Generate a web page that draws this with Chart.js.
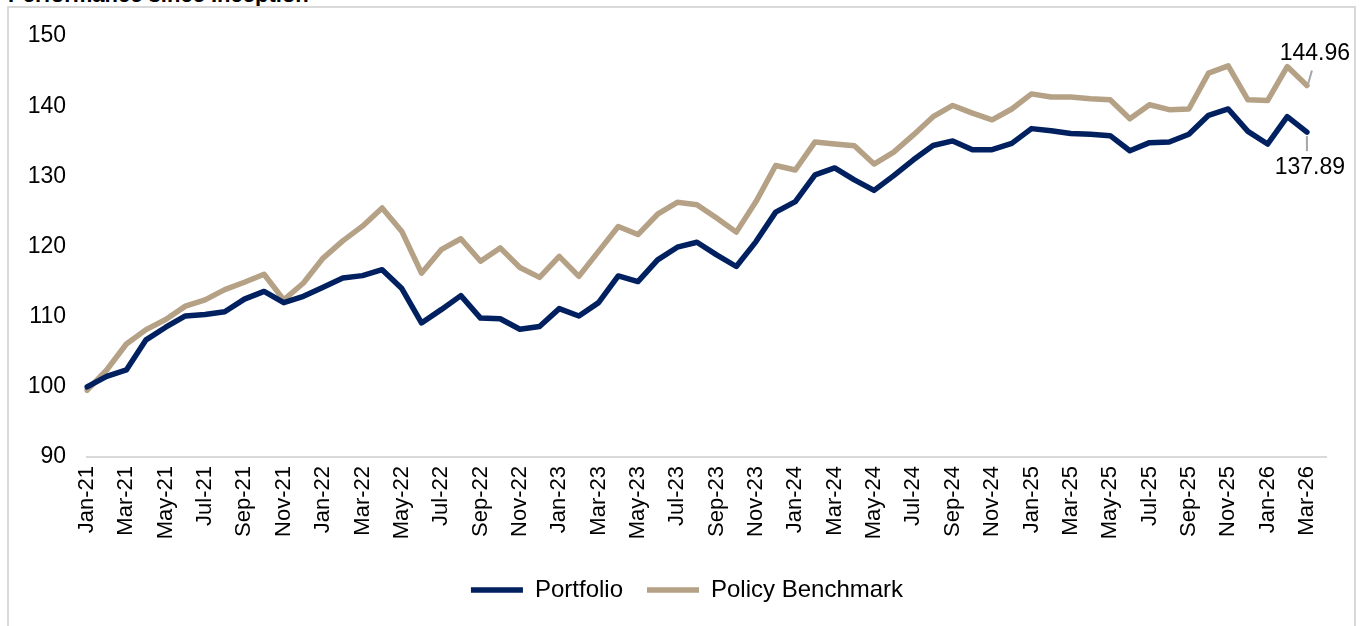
<!DOCTYPE html>
<html>
<head>
<meta charset="utf-8">
<script src="https://cdn.jsdelivr.net/npm/chart.js@4"></script>
<style>
    html, body { margin: 0; padding: 0; background: #fff; overflow: hidden; }
    .frame { position: absolute; left: 7px; top: 6px; width: 1349px; height: 640px; border: 2px solid #d9d9d9; box-sizing: border-box; }
    .title { position: absolute; left: 8px; top: -16px; font: bold 22px "Liberation Sans", Arial, sans-serif; line-height: 22px; color: #000; white-space: nowrap; }
    #wrap { position: absolute; left: 0; top: 0; width: 1362px; height: 626px; }
</style>
</head>
<body>
<div class="title">Performance since Inception</div>
<div class="frame"></div>
<div id="wrap"><canvas id="perfChart"></canvas></div>
<script>
const months = [
    'Jan-21', 'Feb-21', 'Mar-21', 'Apr-21', 'May-21', 'Jun-21', 'Jul-21', 'Aug-21', 'Sep-21', 'Oct-21', 'Nov-21', 'Dec-21',
    'Jan-22', 'Feb-22', 'Mar-22', 'Apr-22', 'May-22', 'Jun-22', 'Jul-22', 'Aug-22', 'Sep-22', 'Oct-22', 'Nov-22', 'Dec-22',
    'Jan-23', 'Feb-23', 'Mar-23', 'Apr-23', 'May-23', 'Jun-23', 'Jul-23', 'Aug-23', 'Sep-23', 'Oct-23', 'Nov-23', 'Dec-23',
    'Jan-24', 'Feb-24', 'Mar-24', 'Apr-24', 'May-24', 'Jun-24', 'Jul-24', 'Aug-24', 'Sep-24', 'Oct-24', 'Nov-24', 'Dec-24',
    'Jan-25', 'Feb-25', 'Mar-25', 'Apr-25', 'May-25', 'Jun-25', 'Jul-25', 'Aug-25', 'Sep-25', 'Oct-25', 'Nov-25', 'Dec-25',
    'Jan-26', 'Feb-26', 'Mar-26', 'Apr-26'
];

const portfolio = [
    100.0, 101.5, 102.4, 106.7, 108.5, 110.1, 110.3, 110.7, 112.5, 113.6, 112.0, 112.9,
    114.2, 115.5, 115.85, 116.7, 114.0, 109.1, 111.0, 113.0, 109.8, 109.7, 108.2, 108.6,
    111.15, 110.1, 112.0, 115.8, 115.0, 118.1, 119.9, 120.6, 118.8, 117.15, 120.7, 124.9,
    126.4, 130.2, 131.2, 129.5, 128.0, 130.1, 132.35, 134.4, 135.05, 133.8, 133.8, 134.7,
    136.8, 136.5, 136.1, 136.0, 135.8, 133.65, 134.8, 134.9, 136.0, 138.7, 139.6, 136.4,
    134.6, 138.5, 136.3, null
];

const benchmark = [
    99.5, 102.4, 106.1, 108.15, 109.6, 111.5, 112.4, 113.85, 114.9, 116.05, 112.4, 114.8,
    118.35, 120.8, 122.9, 125.5, 122.15, 116.2, 119.55, 121.1, 117.9, 119.8, 117.0, 115.6,
    118.6, 115.75, 119.3, 122.85, 121.7, 124.6, 126.3, 125.95, 124.05, 122.05, 126.4, 131.55,
    130.9, 134.9, 134.6, 134.35, 131.75, 133.45, 135.9, 138.5, 140.1, 139.0, 138.05, 139.6,
    141.75, 141.3, 141.3, 141.05, 140.9, 138.2, 140.2, 139.5, 139.6, 144.7, 145.75, 140.9,
    140.8, 145.65, 142.95, null
];

const seriesNames = ['Portfolio', 'Policy Benchmark'];
const endLabels = ['137.89', '144.96'];
const yTicks = [90, 100, 110, 120, 130, 140, 150];

const FONT = '"Liberation Sans", Arial, sans-serif';

// data labels with leader lines on the last point of each line
const endLabelPlugin = {
    id: 'endLabels',
    afterDatasetsDraw(chart) {
        const ctx = chart.ctx;
        ctx.save();
        ctx.font = '23px ' + FONT;
        ctx.fillStyle = '#000';
        ctx.strokeStyle = '#a6a6a6';
        ctx.lineWidth = 2;
        ctx.textAlign = 'center';
        ctx.textBaseline = 'middle';
        chart.data.datasets.forEach((ds, di) => {
            const meta = chart.getDatasetMeta(di);
            let last = ds.data.length - 1;
            while (last > 0 && ds.data[last] == null) last--;
            const pt = meta.data[last];
            ctx.beginPath();
            if (di === 0) {
                // below the line
                ctx.moveTo(pt.x, pt.y + 4);
                ctx.lineTo(pt.x, pt.y + 19);
                ctx.stroke();
                ctx.fillText(endLabels[di], pt.x + 3, pt.y + 36);
            } else {
                // above the line
                ctx.moveTo(pt.x + 1, pt.y - 1);
                ctx.lineTo(pt.x + 5, pt.y - 15);
                ctx.stroke();
                ctx.fillText(endLabels[di], pt.x + 8, pt.y - 32);
            }
        });
        ctx.restore();
    }
};

// legend in the reference sits a bit right of the plot centre
const legendShift = {
    id: 'legendShift',
    afterLayout(chart) {
        chart.legend.left += 22;
        chart.legend.right += 22;
    }
};

document.addEventListener('DOMContentLoaded', function () {
    const ctx = document.getElementById('perfChart').getContext('2d');

    new Chart(ctx, {
        type: 'line',
        data: {
            labels: months,
            datasets: [{
                label: seriesNames[0],
                data: portfolio,
                borderColor: '#002060',
                backgroundColor: '#002060',
                borderWidth: 5.5,
                borderCapStyle: 'round',
                borderJoinStyle: 'round',
                pointRadius: 0,
                tension: 0
            }, {
                label: seriesNames[1],
                data: benchmark,
                borderColor: '#b5a185',
                backgroundColor: '#b5a185',
                borderWidth: 5.5,
                borderCapStyle: 'round',
                borderJoinStyle: 'round',
                pointRadius: 0,
                tension: 0
            }]
        },
        options: {
            responsive: true,
            maintainAspectRatio: false,
            animation: false,
            layout: {
                padding: { top: 36, right: 32, bottom: 14, left: 0 }
            },
            plugins: {
                legend: {
                    position: 'bottom',
                    labels: {
                        usePointStyle: true,
                        pointStyle: 'line',
                        pointStyleWidth: 52,
                        padding: 24,
                        color: '#000',
                        font: { family: FONT, size: 24 }
                    }
                },
                tooltip: { enabled: false }
            },
            scales: {
                x: {
                    grid: { display: false, drawTicks: false },
                    border: { display: true, color: '#d9d9d9', width: 2 },
                    ticks: {
                        autoSkip: false,
                        minRotation: 90,
                        maxRotation: 90,
                        padding: 9,
                        color: '#000',
                        font: { family: FONT, size: 22 },
                        callback: function (val, i) {
                            return i % 2 === 0 ? months[i] : '';
                        }
                    },
                    afterFit: function (scale) {
                        scale.height = 97;
                    }
                },
                y: {
                    min: yTicks[0],
                    max: yTicks[yTicks.length - 1],
                    grid: { display: false, drawTicks: false },
                    border: { display: false },
                    afterBuildTicks: function (scale) {
                        scale.ticks = yTicks.map(v => ({ value: v }));
                    },
                    ticks: {
                        padding: 21,
                        color: '#000',
                        font: { family: FONT, size: 23 }
                    },
                    afterFit: function (scale) {
                        scale.width = 87;
                    }
                }
            }
        },
        plugins: [endLabelPlugin, legendShift]
    });
});
</script>
</body>
</html>
